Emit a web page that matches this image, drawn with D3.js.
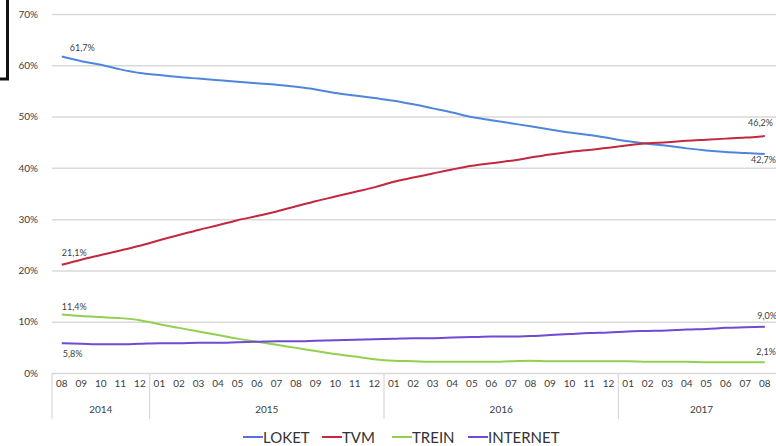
<!DOCTYPE html>
<html>
<head>
<meta charset="utf-8">
<script src="https://cdn.jsdelivr.net/npm/d3@7/dist/d3.min.js"></script>
<style>
  html, body { margin: 0; padding: 0; background: #fff; }
  svg { display: block; font-family: Lato, "Open Sans", sans-serif; }
</style>
</head>
<body>
<svg id="chart" width="776" height="446"></svg>
<script>
// Monthly share per sales channel, 08/2014 – 08/2017
const months = ["08","09","10","11","12",
  "01","02","03","04","05","06","07","08","09","10","11","12",
  "01","02","03","04","05","06","07","08","09","10","11","12",
  "01","02","03","04","05","06","07","08"];
const years = [
  { label: "2014", count: 5 },
  { label: "2015", count: 12 },
  { label: "2016", count: 12 },
  { label: "2017", count: 8 }
];
const loket = [61.7,60.8,60.1,59.2,58.5,58.1,57.7,57.4,57.1,56.8,56.5,56.2,55.8,55.3,54.6,54.1,53.6,53.1,52.4,51.6,50.8,49.9,49.3,48.7,48.1,47.5,46.9,46.4,45.8,45.2,44.7,44.3,43.8,43.4,43.1,42.9,42.7];
const tvm = [21.1,22.1,23.0,23.9,24.8,25.9,26.9,27.9,28.8,29.8,30.6,31.5,32.5,33.5,34.4,35.3,36.2,37.3,38.1,38.9,39.7,40.4,40.9,41.4,42.0,42.6,43.1,43.5,43.9,44.4,44.8,45.0,45.3,45.5,45.7,45.9,46.2];
const trein = [11.4,11.1,10.9,10.7,10.3,9.5,8.8,8.1,7.4,6.7,6.1,5.5,4.9,4.3,3.7,3.2,2.7,2.4,2.3,2.2,2.2,2.2,2.2,2.3,2.4,2.3,2.3,2.3,2.3,2.3,2.2,2.2,2.2,2.1,2.1,2.1,2.1];
const internet = [5.8,5.7,5.6,5.6,5.7,5.8,5.8,5.9,5.9,6.0,6.1,6.2,6.2,6.3,6.4,6.5,6.6,6.7,6.8,6.8,6.9,7.0,7.1,7.1,7.2,7.4,7.6,7.8,7.9,8.1,8.2,8.3,8.5,8.6,8.8,8.9,9.0];
const yTicks = [0,10,20,30,40,50,60,70];

const series = [
  { name: "LOKET",    values: loket,    color: "#4f86dc", swatch: "#5b6ee0" },
  { name: "TVM",      values: tvm,      color: "#c3283f", swatch: "#c3283f" },
  { name: "TREIN",    values: trein,    color: "#92d050", swatch: "#92d050" },
  { name: "INTERNET", values: internet, color: "#6e4bd2", swatch: "#6e4bd2" }
];

const fmt = v => v.toFixed(1).replace(".", ",") + "%";

const svg = d3.select("#chart");
const plotLeft = 52, plotRight = 774.6, plotTop = 14, plotBottom = 373;

const idx = d3.range(months.length);
const x = d3.scaleBand().domain(idx).range([plotLeft, plotRight]).paddingInner(0).paddingOuter(0);
const cx = i => x(i) + x.bandwidth() / 2;
const y = d3.scaleLinear().domain([0, 70]).range([plotBottom, plotTop]);

// corner of a frame at top left
svg.append("path")
  .attr("d", "M0,79 H7.5 V0")
  .attr("fill", "none").attr("stroke", "#111").attr("stroke-width", 3);

// horizontal gridlines + y labels
const yAxis = d3.axisLeft(y).tickValues(yTicks).tickSize(-(776 - plotLeft)).tickFormat(d => d + "%");
const gy = svg.append("g").attr("transform", `translate(${plotLeft},0)`).call(yAxis);
gy.select(".domain").remove();
gy.selectAll(".tick line").attr("stroke", "#d9d9d9").attr("stroke-width", 1.5);
gy.selectAll(".tick text").attr("x", -14).attr("fill", "#404040")
  .attr("font-size", 10).attr("font-family", "Lato, sans-serif");

// month labels
const xAxis = d3.axisBottom(x).tickFormat(i => months[i]).tickSize(0).tickPadding(7);
const gx = svg.append("g").attr("transform", `translate(0,${plotBottom})`).call(xAxis);
gx.select(".domain").remove();
gx.selectAll(".tick text").attr("fill", "#404040").attr("font-size", 10)
  .attr("font-family", "Lato, sans-serif");

// year groups with separators
let start = 0;
const sepX = [x(0)];
years.forEach(yr => {
  const x0 = x(start);
  const end = start + yr.count;
  const x1 = end < months.length ? x(end) : plotRight + 10;
  svg.append("text")
    .attr("x", (x0 + x1) / 2)
    .attr("y", 413)
    .attr("text-anchor", "middle")
    .attr("font-size", 10).attr("fill", "#404040")
    .text(yr.label);
  if (end < months.length) sepX.push(x(end));
  start = end;
});
svg.selectAll("line.sep").data(sepX).join("line")
  .attr("class", "sep")
  .attr("x1", d => d).attr("x2", d => d)
  .attr("y1", plotBottom).attr("y2", 419)
  .attr("stroke", "#d9d9d9").attr("stroke-width", 1.2);

// series lines
const line = d3.line().x((d, i) => cx(i)).y(d => y(d)).curve(d3.curveMonotoneX);
series.forEach(s => {
  svg.append("path")
    .datum(s.values)
    .attr("d", line)
    .attr("fill", "none")
    .attr("stroke", s.color)
    .attr("stroke-width", 2);
});

// start / end value labels
const last = months.length - 1;
const labels = [
  { v: loket[0],    x: cx(0) + 8,  dy: -6, anchor: "start" },
  { v: tvm[0],      x: cx(0),      dy: -9, anchor: "start" },
  { v: trein[0],    x: cx(0),      dy: -5, anchor: "start" },
  { v: internet[0], x: cx(0) + 1,  dy: 14, anchor: "start" },
  { v: tvm[last],      x: 773, dy: -10, anchor: "end" },
  { v: loket[last],    x: 776, dy: 9,   anchor: "end" },
  { v: internet[last], x: 777, dy: -8,  anchor: "end" },
  { v: trein[last],    x: 776, dy: -7,  anchor: "end" }
];
svg.selectAll("text.val").data(labels).join("text")
  .attr("class", "val")
  .attr("x", d => d.x)
  .attr("y", d => y(d.v) + d.dy)
  .attr("text-anchor", d => d.anchor)
  .attr("font-size", 9).attr("fill", "#404040")
  .text(d => fmt(d.v));

// legend
const legendX = [243, 322, 392, 468];
const lg = svg.append("g").attr("transform", "translate(0,437)");
series.forEach((s, i) => {
  lg.append("line")
    .attr("x1", legendX[i]).attr("x2", legendX[i] + 20)
    .attr("y1", 0).attr("y2", 0)
    .attr("stroke", s.swatch).attr("stroke-width", 2);
  lg.append("text")
    .attr("x", legendX[i] + 20).attr("y", 5.5)
    .attr("font-size", 15).attr("fill", "#333")
    .text(s.name);
});
</script>
</body>
</html>
